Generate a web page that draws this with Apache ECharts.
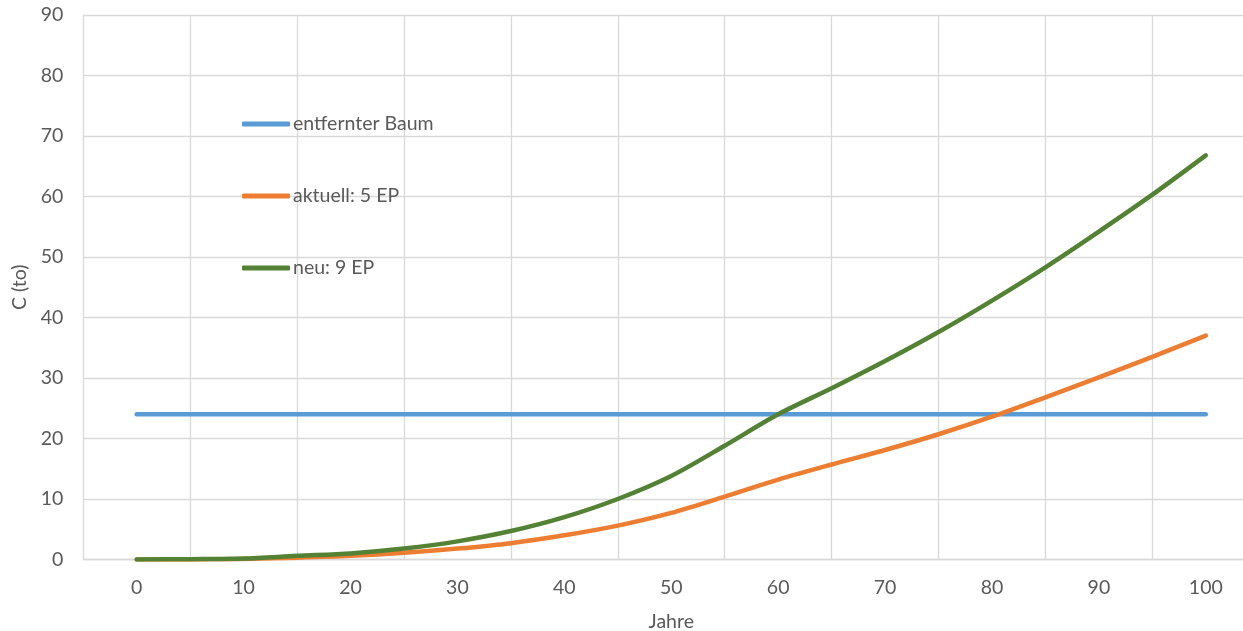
<!DOCTYPE html>
<html>
<head>
<meta charset="utf-8">
<script src="https://cdn.jsdelivr.net/npm/echarts@6/dist/echarts.min.js"></script>
<style>
  html, body { margin: 0; padding: 0; background: #ffffff; overflow: hidden; }
  /* the plot area runs slightly past the right edge of the window */
  #chart { width: 1260px; height: 631px; }
</style>
</head>
<body>
<div id="chart"></div>
<script>
// Axis labels along the bottom (one per decade)
const yearLabels = ['0', '10', '20', '30', '40', '50', '60', '70', '80', '90', '100'];
// Sample years (every 5 years)
const years = [0, 5, 10, 15, 20, 25, 30, 35, 40, 45, 50, 55, 60, 65, 70, 75, 80, 85, 90, 95, 100];
// Carbon stock in tonnes
const removedTree = [24, 24, 24, 24, 24, 24, 24, 24, 24, 24, 24, 24, 24, 24, 24, 24, 24, 24, 24, 24, 24];
const current5EP  = [0, 0.02, 0.1, 0.3, 0.6, 1.1, 1.8, 2.7, 4.0, 5.6, 7.7, 10.4, 13.2, 15.7, 18.1, 20.7, 23.6, 26.8, 30.1, 33.5, 37.0];
const new9EP      = [0, 0.05, 0.15, 0.6, 1.0, 1.8, 3.0, 4.7, 7.0, 10.0, 13.8, 18.8, 24.0, 28.3, 32.8, 37.6, 42.8, 48.3, 54.2, 60.3, 66.8];
const yTicks = { min: 0, max: 90, interval: 10 };

const seriesNames = ['entfernter Baum', 'aktuell: 5 EP', 'neu: 9 EP'];
const seriesColors = ['#5b9bd5', '#ed7d31', '#548235'];
const seriesValues = [removedTree, current5EP, new9EP];

const FONT = 'Lato, "Open Sans", sans-serif';
const FS = 19.5;
const TEXT = '#595959';
const GRID = '#d9d9d9';

const chart = echarts.init(document.getElementById('chart'), null, { renderer: 'canvas' });

chart.setOption({
  animation: false,
  backgroundColor: '#ffffff',
  textStyle: { fontFamily: FONT },
  grid: {
    left: 83.25, top: 15, width: 1176, height: 544.5,
    containLabel: false,
    outerBoundsMode: 'none'
  },
  legend: {
    orient: 'vertical',
    left: 242,
    top: 112,
    padding: 0,
    itemWidth: 48,
    itemHeight: 5,
    itemGap: 48,
    icon: 'roundRect',
    data: seriesNames,
    textStyle: { color: TEXT, fontSize: FS, fontFamily: FONT, lineHeight: 24, padding: [0, 0, 0, -2] }
  },
  xAxis: [
    {
      type: 'category',
      data: yearLabels,
      boundaryGap: true,
      name: 'Jahre',
      nameLocation: 'middle',
      nameGap: 52,
      nameTextStyle: { color: TEXT, fontSize: FS, fontFamily: FONT },
      axisLine: { show: true, lineStyle: { color: GRID, width: 1.3 } },
      axisTick: { show: false },
      axisLabel: { color: TEXT, fontSize: FS, fontFamily: FONT, margin: 18 },
      splitLine: { show: true, lineStyle: { color: GRID, width: 1.3 } }
    },
    {
      type: 'value',
      min: -5,
      max: 105,
      show: false
    }
  ],
  yAxis: {
    type: 'value',
    min: yTicks.min,
    max: yTicks.max,
    interval: yTicks.interval,
    name: 'C (to)',
    nameLocation: 'middle',
    nameGap: 52,
    nameRotate: 90,
    nameTextStyle: { color: TEXT, fontSize: FS, fontFamily: FONT },
    axisLine: { show: false },
    axisTick: { show: false },
    axisLabel: { color: TEXT, fontSize: FS, fontFamily: FONT, margin: 20 },
    splitLine: { show: true, lineStyle: { color: GRID, width: 1.3 } }
  },
  series: seriesNames.map((name, i) => ({
    name: name,
    type: 'line',
    xAxisIndex: 1,
    data: years.map((yr, k) => [yr, seriesValues[i][k]]),
    smooth: 0.3,
    showSymbol: false,
    symbol: 'none',
    itemStyle: { color: seriesColors[i] },
    lineStyle: { color: seriesColors[i], width: 4.5, cap: 'round', join: 'round' },
    z: 2 + i
  }))
});
</script>
</body>
</html>
